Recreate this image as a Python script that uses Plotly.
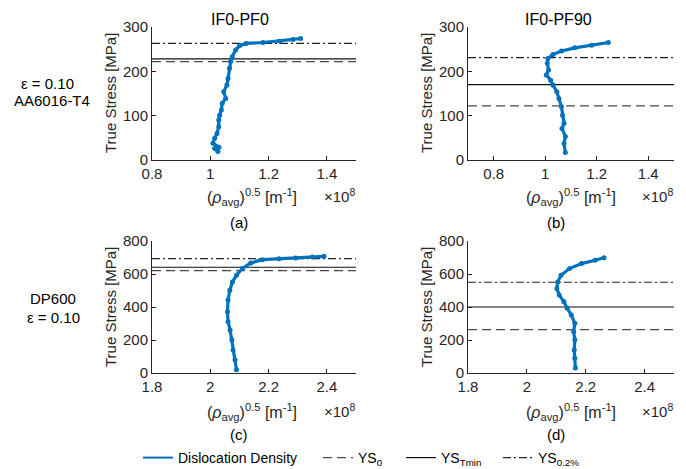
import plotly.graph_objects as go

# page has an 8px body margin; size the figure so it fills the visible 686x469 window
OFF = 8
W, H = 686 - OFF, 469 - OFF

# ---------------- data (x in units of 1e8 m^-1, y in MPa) ----------------
a_x = [1.026, 1.015, 1.030, 1.009, 1.015, 1.023, 1.029, 1.029, 1.032, 1.038, 1.041, 1.053,
       1.046, 1.057, 1.061, 1.066, 1.070, 1.075, 1.087, 1.101, 1.123, 1.181, 1.238, 1.284, 1.310]
a_y = [19, 26, 29, 38, 49, 60, 75, 90, 101, 113, 128, 139, 154, 169, 184, 207, 222, 233, 248,
       258, 263, 265, 268, 272, 274]

b_x = [1.078, 1.073, 1.078, 1.065, 1.073, 1.067, 1.063, 1.053, 1.045, 1.030, 1.021, 1.004,
       1.013, 1.008, 1.010, 1.030, 1.063, 1.115, 1.180, 1.245]
b_y = [17, 37, 53, 71, 83, 101, 120, 139, 154, 169, 180, 192, 203, 218, 229, 238, 246, 253,
       259, 265]

c_x = [2.090, 2.085, 2.078, 2.074, 2.068, 2.061, 2.059, 2.061, 2.067, 2.076, 2.090, 2.110,
       2.139, 2.179, 2.236, 2.293, 2.350, 2.390]
c_y = [20, 80, 140, 201, 261, 311, 371, 442, 502, 552, 593, 633, 667, 687, 693, 697, 703, 707]

d_x = [2.165, 2.163, 2.161, 2.163, 2.159, 2.163, 2.151, 2.137, 2.126, 2.110, 2.102, 2.105,
       2.116, 2.145, 2.186, 2.232, 2.262]
d_y = [30, 90, 140, 201, 251, 301, 352, 392, 432, 472, 512, 552, 593, 633, 663, 683, 699]

# yield-stress levels per panel: YS0, YS_Tmin, YS_0.2%
ys0 = [222, 122, 621, 263]
ystmin = [228, 170, 641, 400]
ys02 = [263, 231, 693, 550]

panel_titles = ["IF0-PF0", "IF0-PF90", "", ""]
panel_tags = ["(a)", "(b)", "(c)", "(d)"]
x_ranges = [[0.8, 1.5], [0.7, 1.5], [1.8, 2.5], [1.8, 2.5]]
y_ranges = [[0, 300], [0, 300], [0, 800], [0, 800]]
x_ticks = [[0.8, 1, 1.2, 1.4], [0.8, 1, 1.2, 1.4], [1.8, 2, 2.2, 2.4], [1.8, 2, 2.2, 2.4]]
x_ticktext = [["0.8", "1", "1.2", "1.4"], ["0.8", "1", "1.2", "1.4"],
              ["1.8", "2", "2.2", "2.4"], ["1.8", "2", "2.2", "2.4"]]
y_ticks = [[0, 100, 200, 300], [0, 100, 200, 300], [0, 200, 400, 600, 800], [0, 200, 400, 600, 800]]
row_labels = [["ε = 0.10", "AA6016-T4"], ["DP600", "ε = 0.10"]]
legend_names = ["Dislocation Density", "YS<sub>0</sub>", "YS<sub>Tmin</sub>", "YS<sub>0.2%</sub>"]

series_x = [a_x, b_x, c_x, d_x]
series_y = [a_y, b_y, c_y, d_y]

# ---------------- layout helpers (pixel positions are window coordinates) ----------------
def px(x):
    return (x - OFF) / W

def py(y):
    return 1 - (y - OFF) / H

BLUE = "#0072BD"
AX = "#262626"
FONT = "Liberation Sans, Arial, sans-serif"

# axes pixel boxes: (left, right, top, bottom)
boxes = [(152, 356, 27, 160), (468, 674, 27, 160), (152, 356, 241, 373), (468, 674, 241, 373)]

fig = go.Figure()

DASH0 = "9px,5px"
DASHDOT = "8px,3px,2px,3px"

for i in range(4):
    xa = "x" if i == 0 else f"x{i+1}"
    ya = "y" if i == 0 else f"y{i+1}"
    xr = x_ranges[i]
    fig.add_trace(go.Scatter(x=xr, y=[ys0[i], ys0[i]], mode="lines",
                             line=dict(color="#4a4a4a", width=1.2, dash=DASH0),
                             xaxis=xa, yaxis=ya, showlegend=(i == 0), name=legend_names[1],
                             legend="legend2", hoverinfo="skip"))
    fig.add_trace(go.Scatter(x=xr, y=[ystmin[i], ystmin[i]], mode="lines",
                             line=dict(color="#111111", width=1.2),
                             xaxis=xa, yaxis=ya, showlegend=(i == 0), name=legend_names[2],
                             legend="legend3", hoverinfo="skip"))
    fig.add_trace(go.Scatter(x=xr, y=[ys02[i], ys02[i]], mode="lines",
                             line=dict(color="#222222", width=1.2, dash=DASHDOT),
                             xaxis=xa, yaxis=ya, showlegend=(i == 0), name=legend_names[3],
                             legend="legend4", hoverinfo="skip"))
    fig.add_trace(go.Scatter(x=series_x[i], y=series_y[i], mode="lines+markers",
                             line=dict(color=BLUE, width=3.2),
                             marker=dict(color=BLUE, size=5),
                             xaxis=xa, yaxis=ya, showlegend=False, hoverinfo="skip"))

# legend-only entry for the data series (line symbol only)
fig.add_trace(go.Scatter(x=[None], y=[None], mode="lines", line=dict(color=BLUE, width=2),
                         name=legend_names[0], legend="legend", showlegend=True))

layout = dict(
    width=W, height=H,
    margin=dict(l=0, r=0, t=0, b=0, autoexpand=False),
    paper_bgcolor="white", plot_bgcolor="white",
    font=dict(family=FONT, size=15, color="#000000"),
)

for i in range(4):
    l, r, t, b = boxes[i]
    kx = "xaxis" if i == 0 else f"xaxis{i+1}"
    ky = "yaxis" if i == 0 else f"yaxis{i+1}"
    ya = "y" if i == 0 else f"y{i+1}"
    xa = "x" if i == 0 else f"x{i+1}"
    layout[kx] = dict(domain=[px(l), px(r)], range=x_ranges[i], anchor=ya,
                      tickvals=x_ticks[i], ticktext=x_ticktext[i], automargin=False,
                      showline=True, linecolor=AX, linewidth=1, mirror=False,
                      ticks="inside", ticklen=4, tickcolor=AX,
                      showgrid=False, zeroline=False,
                      tickfont=dict(family=FONT, size=15, color=AX))
    layout[ky] = dict(domain=[py(b), py(t)], range=y_ranges[i], anchor=xa,
                      tickvals=y_ticks[i], automargin=False,
                      showline=True, linecolor=AX, linewidth=1, mirror=False,
                      ticks="inside", ticklen=4, tickcolor=AX,
                      showgrid=False, zeroline=False,
                      tickfont=dict(family=FONT, size=15, color=AX))

annotations = []

def ann(text, x, y, size=15, color="#000000", angle=0, xanchor="center"):
    annotations.append(dict(text=text, x=px(x), y=py(y), xref="paper", yref="paper",
                            showarrow=False, textangle=angle, xanchor=xanchor, yanchor="middle",
                            font=dict(family=FONT, size=size, color=color)))

# titles
ann(panel_titles[0], 240, 20, size=16)
ann(panel_titles[1], 558, 20, size=16)

xlabel = "(<i>ρ</i><sub>avg</sub>)<sup>0.5</sup> [m<sup>-1</sup>]"
xlab_pos = [(252, 197), (571, 197), (252, 412), (571, 412)]
tag_pos = [(239, 222), (556, 222), (239, 434), (556, 434)]
ylab_pos = [(110, 93), (426, 93), (110, 307), (426, 307)]
for i in range(4):
    l, r, t, b = boxes[i]
    ann(xlabel, *xlab_pos[i], size=16, color=AX)
    ann("×10<sup>8</sup>", r + 1, xlab_pos[i][1] - 2, color=AX, xanchor="right")
    ann(panel_tags[i], *tag_pos[i])
    ann("True Stress [MPa]", *ylab_pos[i], color=AX, angle=-90)

ann(row_labels[0][0], 47, 83)
ann(row_labels[0][1], 52, 100)
ann(row_labels[1][0], 53, 298)
ann(row_labels[1][1], 53, 317)

layout["annotations"] = annotations

leg_common = dict(orientation="h", yanchor="middle", xanchor="left", y=py(458),
                  xref="container", yref="container",
                  bgcolor="rgba(0,0,0,0)", borderwidth=0,
                  font=dict(family=FONT, size=14, color="#000000"),
                  itemwidth=30)
layout["legend"] = dict(leg_common, x=px(138))
layout["legend2"] = dict(leg_common, x=px(318))
layout["legend3"] = dict(leg_common, x=px(401))
layout["legend4"] = dict(leg_common, x=px(498))

fig.update_layout(**layout)
fig.write_html("out.html")
